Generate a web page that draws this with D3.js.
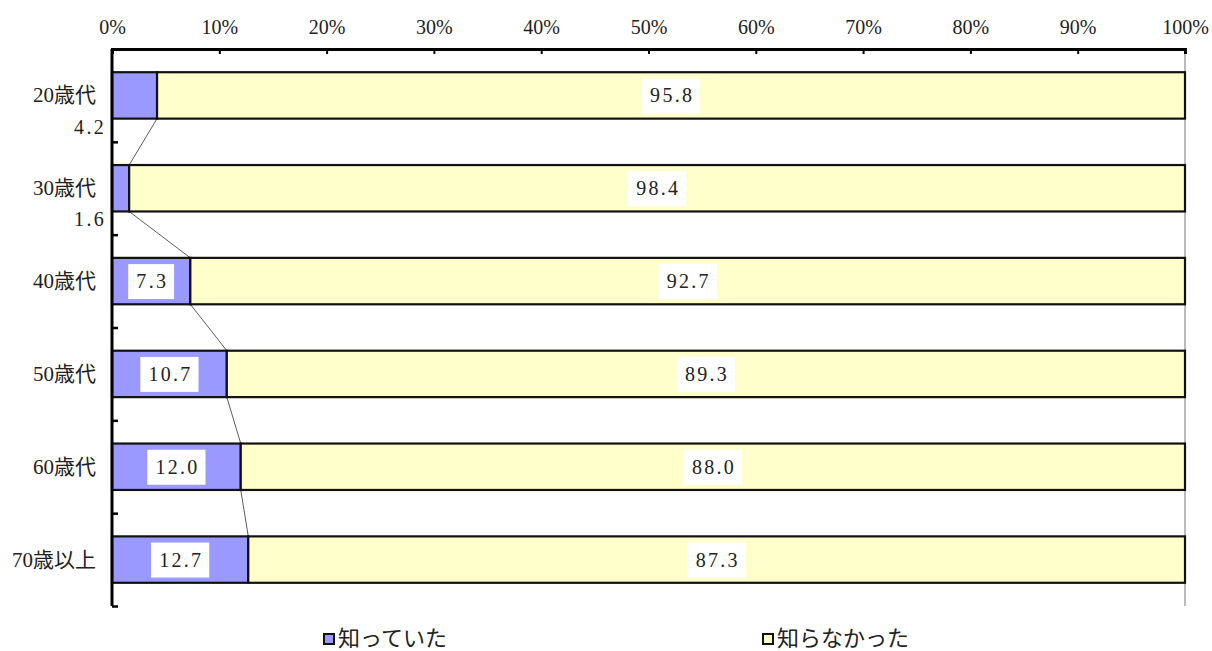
<!DOCTYPE html>
<html>
<head>
<meta charset="utf-8">
<script src="https://cdn.jsdelivr.net/npm/d3@7"></script>
<style>
  html, body { margin: 0; padding: 0; background: #fff; }
  svg text { font-family: "Liberation Serif", "DejaVu Serif", "Noto Sans CJK JP", serif; fill: #222; }
</style>
</head>
<body>
<svg id="chart" width="1212" height="651"></svg>
<script>
// Age groups and share (%) who knew / did not know
const categories = ["20歳代", "30歳代", "40歳代", "50歳代", "60歳代", "70歳以上"];
const knew = [4.2, 1.6, 7.3, 10.7, 12.0, 12.7];
const didNotKnow = [95.8, 98.4, 92.7, 89.3, 88.0, 87.3];
const seriesNames = ["知っていた", "知らなかった"];
const tickValues = [0, 10, 20, 30, 40, 50, 60, 70, 80, 90, 100];

const colors = ["#9999FF", "#FFFFCC"];
const svg = d3.select("#chart");
const plotLeft = 112, plotRight = 1185, plotTop = 49, plotBottom = 606;
const fontSize = 20;

const x = d3.scaleLinear().domain([0, 100]).range([plotLeft, plotRight]);
const y = d3.scaleBand().domain(categories).range([plotTop, plotBottom]).paddingInner(0.5).paddingOuter(0.25);
const band = d3.scaleBand().domain(categories).range([plotTop, plotBottom]);

// right border of plot area
svg.append("line")
  .attr("x1", plotRight).attr("x2", plotRight).attr("y1", plotTop).attr("y2", plotBottom)
  .attr("stroke", "#777").attr("stroke-width", 1);

// connector lines between the ends of the first segments
const lineData = d3.pairs(categories.map((c, i) => ({ c, v: knew[i] })));
svg.append("g").selectAll("line").data(lineData).join("line")
  .attr("x1", d => x(d[0].v)).attr("y1", d => y(d[0].c) + y.bandwidth())
  .attr("x2", d => x(d[1].v)).attr("y2", d => y(d[1].c))
  .attr("stroke", "#333").attr("stroke-width", 0.8);

// stacked bars
const rows = categories.map((c, i) => ({ c, segs: [
  { s: 0, x0: 0, x1: knew[i], v: knew[i] },
  { s: 1, x0: knew[i], x1: knew[i] + didNotKnow[i], v: didNotKnow[i] }
]}));
const barG = svg.append("g");
rows.forEach(r => {
  barG.selectAll(null).data(r.segs).join("rect")
    .attr("x", d => x(d.x0)).attr("y", y(r.c))
    .attr("width", d => x(d.x1) - x(d.x0)).attr("height", y.bandwidth())
    .attr("fill", d => colors[d.s])
    .attr("stroke", "#111").attr("stroke-width", 2.2);
});

// value labels
const fmt = d3.format(".1f");
const labelG = svg.append("g");
rows.forEach(r => {
  r.segs.forEach(d => {
    const txt = fmt(d.v);
    const w = x(d.x1) - x(d.x0);
    const cy = y(r.c) + y.bandwidth() / 2;
    const g = labelG.append("g");
    const t = g.append("text")
      .attr("font-size", fontSize).attr("letter-spacing", "2.3px")
      .attr("dominant-baseline", "central")
      .text(txt);
    const tw = t.node().getComputedTextLength();
    if (w < tw + 14) {
      // label does not fit: put it beside the axis, below the bar
      t.attr("text-anchor", "end")
        .attr("x", plotLeft - 6)
        .attr("y", y(r.c) + y.bandwidth() + 8);
    } else {
      const cx = (x(d.x0) + x(d.x1)) / 2;
      g.insert("rect", "text")
        .attr("x", cx - tw / 2 - 7).attr("y", cy - 17)
        .attr("width", tw + 14).attr("height", 35)
        .attr("fill", "#fff");
      t.attr("text-anchor", "middle").attr("x", cx + 1.15).attr("y", cy);
    }
  });
});

// top axis
const xAxis = d3.axisTop(x).tickValues(tickValues).tickSize(-5).tickFormat(d => d + "%");
const gx = svg.append("g").attr("transform", `translate(0,${plotTop})`).call(xAxis);
gx.attr("font-family", null).attr("font-size", null);
gx.select(".domain").attr("stroke", "#000").attr("stroke-width", 3);
gx.selectAll(".tick line").attr("stroke", "#000").attr("stroke-width", 2);
gx.selectAll(".tick text").attr("font-size", fontSize).attr("fill", "#222")
  .attr("y", -21).attr("dy", "0.32em");

// left axis with ticks on band boundaries
const boundaries = categories.map(c => band(c) + band.bandwidth());
const yLine = d3.scaleLinear().domain([plotTop, plotBottom]).range([plotTop, plotBottom]);
const yAxis = d3.axisRight(yLine).tickValues(boundaries).tickSize(6).tickFormat("");
const gy = svg.append("g").attr("transform", `translate(${plotLeft},0)`).call(yAxis);
gy.select(".domain").attr("stroke", "#000").attr("stroke-width", 3).attr("d", `M0,${plotTop}V${plotBottom}`);
gy.selectAll(".tick line").attr("stroke", "#000").attr("stroke-width", 2.5);

// category labels
svg.append("g").selectAll("text").data(categories).join("text")
  .attr("x", 96).attr("y", d => y(d) + y.bandwidth() / 2)
  .attr("text-anchor", "end").attr("dominant-baseline", "central")
  .attr("font-size", 21)
  .text(d => d);

// legend
const legendX = [324, 763];
const lg = svg.append("g").selectAll("g").data(seriesNames).join("g")
  .attr("transform", (d, i) => `translate(${legendX[i]},638)`);
lg.append("rect").attr("x", 0).attr("y", -4).attr("width", 10).attr("height", 10)
  .attr("fill", (d, i) => colors[i]).attr("stroke", "#111").attr("stroke-width", 2);
lg.append("text").attr("x", 14).attr("y", 0).attr("dominant-baseline", "central")
  .attr("font-size", 22).text(d => d);
</script>
</body>
</html>
